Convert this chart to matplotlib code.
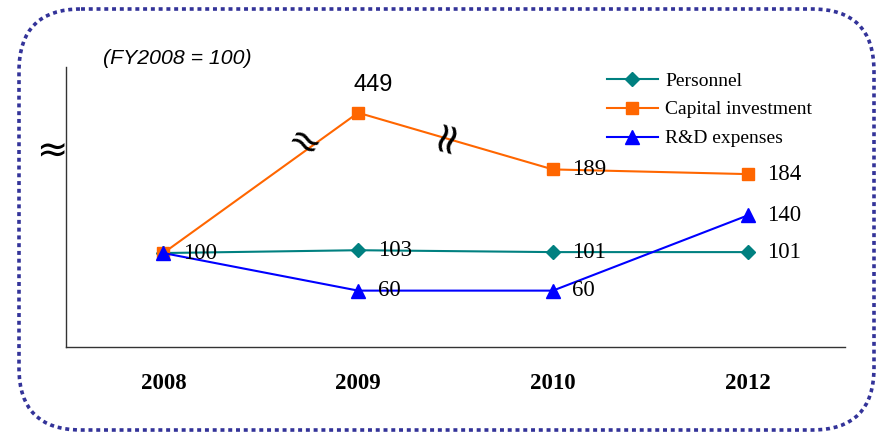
import matplotlib
matplotlib.use("Agg")
import matplotlib.pyplot as plt
from matplotlib.patches import FancyBboxPatch
import numpy as np

# index values, FY2008 = 100
years = ["2008", "2009", "2010", "2012"]
personnel = [100, 103, 101, 101]
capital = [100, 449, 189, 184]
rnd = [100, 60, 60, 140]

SERIF = "Liberation Serif"
SANS = "Liberation Sans"

# broken y axis: everything above BREAK is squeezed
BREAK = 210
K = 0.1645


def fwd(y):
    y = np.asarray(y, dtype=float)
    return np.where(y <= BREAK, y, BREAK + (y - BREAK) * K)


def inv(y):
    y = np.asarray(y, dtype=float)
    return np.where(y <= BREAK, y, BREAK + (y - BREAK) / K)


fig = plt.figure(figsize=(8.8, 4.32), dpi=100)

# dotted rounded frame around everything
bg = fig.add_axes([0, 0, 1, 1])
bg.set_xlim(0, 880)
bg.set_ylim(432, 0)
bg.axis("off")
frame = FancyBboxPatch((19, 9), 855, 421, boxstyle="round,pad=0,rounding_size=62",
                       fill=False, edgecolor="#333399", linewidth=2.6,
                       linestyle=(0, (1.1, 1.05)))
bg.add_patch(frame)

ax = fig.add_axes([66 / 880, 85 / 432, 779 / 880, 280 / 432])
ax.set_yscale("function", functions=(fwd, inv))

x = np.arange(len(years))
ax.plot(x, personnel, color="#008080", lw=1.5, marker="D", ms=7, label="Personnel", zorder=3)
ax.plot(x, capital, color="#FF6600", lw=1.5, marker="s", ms=8.5, label="Capital investment", zorder=4)
ax.plot(x, rnd, color="#0000FF", lw=1.5, marker="^", ms=9.5, label="R&D expenses", zorder=5)

ax.set_xlim(-0.5, 3.5)
ax.set_ylim(0, float(inv(298)))
ax.set_yticks([])
ax.set_xticks(x)
ax.set_xticklabels(years, fontfamily=SERIF, fontweight="bold", fontsize=16.5)
ax.tick_params(axis="x", length=0, pad=19)
for side in ("top", "right"):
    ax.spines[side].set_visible(False)
for side in ("left", "bottom"):
    ax.spines[side].set_color("#333333")
    ax.spines[side].set_linewidth(1)

# value labels
lab = dict(textcoords="offset points", xytext=(14, 0), va="center", ha="left",
           fontfamily=SERIF, fontsize=16.5, zorder=6)
ax.annotate(str(personnel[0]), (0, personnel[0]), **lab)
for i in range(1, len(years)):
    ax.annotate(str(personnel[i]), (i, personnel[i]), **lab)
    ax.annotate(str(rnd[i]), (i, rnd[i]), **lab)
for i in range(2, len(years)):
    ax.annotate(str(capital[i]), (i, capital[i]), **lab)
ax.annotate(str(capital[1]), (1, capital[1]), textcoords="offset points",
            xytext=(11, 12), ha="center", va="bottom", fontfamily=SANS, fontsize=17)

# break marks on the capital investment line and on the axis
fig.text(304 / 880, 1 - 144 / 432, "≈", fontsize=28, rotation=-30,
         ha="center", va="center")
fig.text(446 / 880, 1 - 135 / 432, "≈", fontsize=31, rotation=75,
         ha="center", va="center")
fig.text(52 / 880, 1 - 152 / 432, "≈", fontsize=27, ha="center", va="center")

fig.text(103 / 880, 1 - 58 / 432, "(FY2008 = 100)", fontfamily=SANS,
         fontstyle="italic", fontsize=15.3, ha="left", va="center")

handles, labels = ax.get_legend_handles_labels()
fig.legend(handles, labels, loc="upper left", bbox_to_anchor=(607 / 880, 1 - 72 / 432),
           frameon=False, prop={"family": SERIF, "size": 14}, handlelength=2.6,
           handletextpad=0.4, labelspacing=0.58, borderpad=0, borderaxespad=0)

fig.savefig("out.png", dpi=100)
